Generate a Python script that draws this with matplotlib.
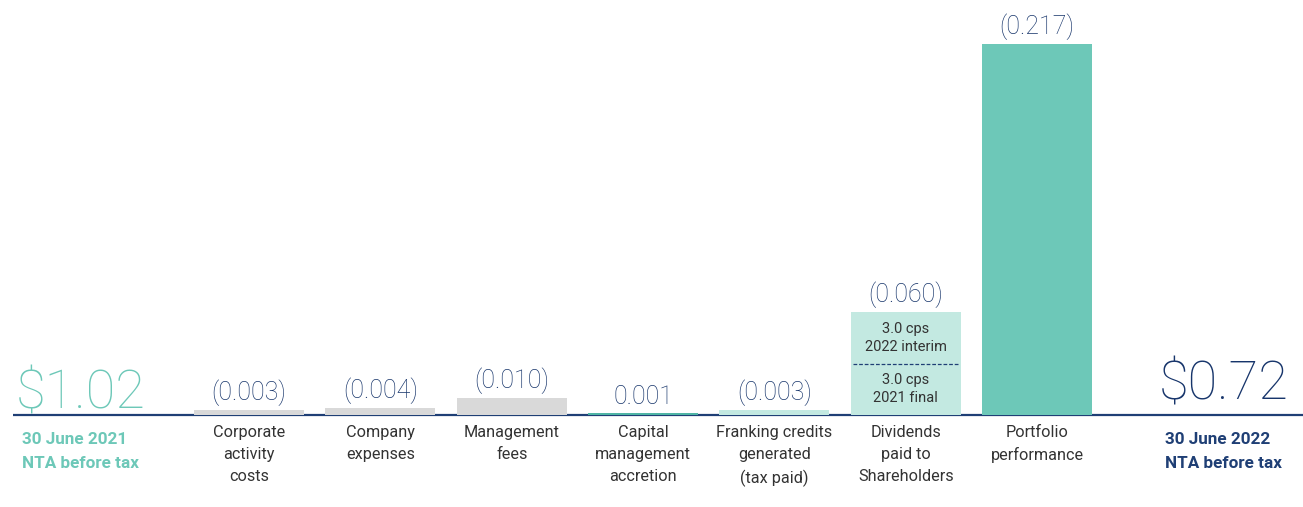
import matplotlib
matplotlib.use('Agg')
import matplotlib.pyplot as plt

# NTA bridge data
categories = ['Corporate\nactivity\ncosts', 'Company\nexpenses', 'Management\nfees',
              'Capital\nmanagement\naccretion', 'Franking credits\ngenerated\n(tax paid)',
              'Dividends\npaid to\nShareholders', 'Portfolio\nperformance']
values = [0.003, 0.004, 0.010, 0.001, 0.003, 0.060, 0.217]
value_labels = ['(0.003)', '(0.004)', '(0.010)', '0.001', '(0.003)', '(0.060)', '(0.217)']
dividend_parts = [0.030, 0.030]
dividend_notes = ['3.0 cps\n2021 final', '3.0 cps\n2022 interim']
start_value = '$1.02'
start_label = '30 June 2021\nNTA before tax'
end_value = '$0.72'
end_label = '30 June 2022\nNTA before tax'

grey = '#d9d9d9'
teal = '#6dc8b8'
dark_teal = '#4fb5a5'
light_teal = '#c3e9e1'
navy = '#1f3f75'
label_navy = '#17356b'
text_grey = '#333333'
colors = [grey, grey, grey, dark_teal, light_teal, light_teal, teal]

plt.rcParams['font.family'] = ['Roboto', 'DejaVu Sans']

fig = plt.figure(figsize=(13.03, 5.07), dpi=100)
ax = fig.add_axes([0, 0, 1, 1])
ax.set_xlim(-0.896, 9.025)
ax.set_ylim(-0.0538, 0.2427)
ax.axis('off')

xs = list(range(1, len(values) + 1))
width = 0.838

for i, (x, v, c) in enumerate(zip(xs, values, colors)):
    if i == 5:
        bottom = 0
        for part in dividend_parts:
            ax.bar(x, part, width=width, bottom=bottom, color=c, linewidth=0, zorder=3)
            bottom += part
        ax.plot([x - width / 2 + 0.02, x + width / 2 - 0.02], [dividend_parts[0]] * 2,
                color=navy, lw=0.9, ls=(0, (3, 1.5)), zorder=4)
        ax.text(x, dividend_parts[0] / 2, dividend_notes[0], ha='center', va='center',
                fontsize=10.5, color=text_grey, linespacing=1.35, zorder=5)
        ax.text(x, dividend_parts[0] + dividend_parts[1] / 2, dividend_notes[1], ha='center',
                va='center', fontsize=10.5, color=text_grey, linespacing=1.35, zorder=5)
    else:
        ax.bar(x, v, width=width, color=c, linewidth=0, zorder=3)
    ax.annotate(value_labels[i], (x, v), xytext=(0, 3), textcoords='offset points',
                ha='center', va='bottom', fontsize=18, color=label_navy, weight='light')
    ax.annotate(categories[i], (x, 0), xytext=(0, -7), textcoords='offset points',
                ha='center', va='top', fontsize=11.7, color=text_grey, linespacing=1.58)

# baseline
ax.plot([-0.8, 9.025], [0, 0], color=navy, lw=1.6, solid_capstyle='butt', zorder=2)

# start / end values
ax.annotate(start_value, (-0.28, 0), xytext=(0, -3), textcoords='offset points',
            ha='center', va='bottom', fontsize=39, color=teal, weight='light')
ax.annotate(start_label, (-0.73, 0), xytext=(0, -12), textcoords='offset points',
            ha='left', va='top', fontsize=12.3, color=teal, weight='bold', linespacing=1.8)
ax.annotate(end_value, (8.42, 0), xytext=(0, 3), textcoords='offset points',
            ha='center', va='bottom', fontsize=39, color=label_navy, weight='light')
ax.annotate(end_label, (7.975, 0), xytext=(0, -12), textcoords='offset points',
            ha='left', va='top', fontsize=12.3, color=navy, weight='bold', linespacing=1.8)

fig.savefig('out.png', dpi=100)
